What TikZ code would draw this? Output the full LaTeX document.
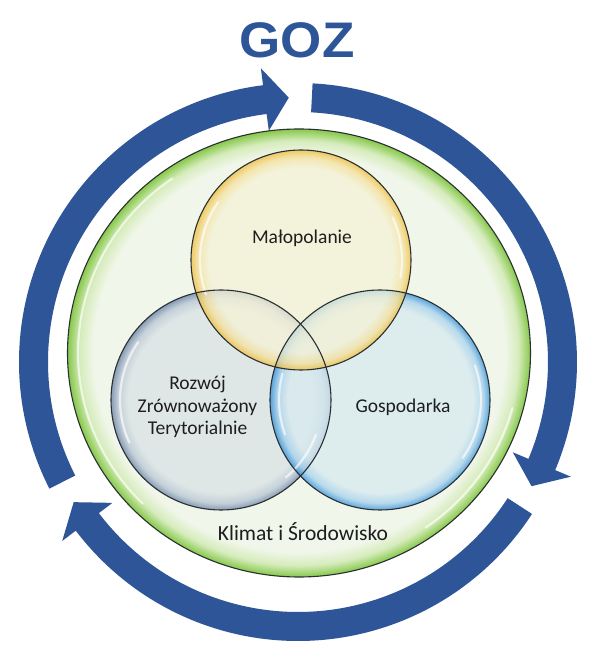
\documentclass[tikz,border=0pt]{standalone}
\usepackage{fontspec}
\setmainfont{Carlito}
\newfontfamily\gozfont[FakeStretch=1.06]{Liberation Sans}
\usetikzlibrary{calc}
\definecolor{arrowblue}{HTML}{2E5597}
\definecolor{greenc}{HTML}{F1F6EA}
\definecolor{greenm}{HTML}{D6ECBC}
\definecolor{greene}{HTML}{86C84A}
\definecolor{yelc}{HTML}{F5F2D6}
\definecolor{yelm}{HTML}{F5E09A}
\definecolor{yele}{HTML}{EFBB36}
\definecolor{lftc}{HTML}{D9E2E5}
\definecolor{lftm}{HTML}{B5C4D4}
\definecolor{lfte}{HTML}{647DA3}
\definecolor{rgtc}{HTML}{D7EAF0}
\definecolor{rgtm}{HTML}{A3D0EE}
\definecolor{rgte}{HTML}{2A8BD6}
\definecolor{outl}{HTML}{2A2F33}
\definecolor{txt}{HTML}{1E1E1E}
\pgfdeclareradialshading{greenglow}{\pgfpoint{0bp}{0bp}}{color(0bp)=(greenc); color(22.2bp)=(greenc); color(23.7bp)=(greenm); color(25bp)=(greene); color(50bp)=(greene)}
\pgfdeclareradialshading{yelglow}{\pgfpoint{0bp}{0bp}}{color(0bp)=(yelc); color(21bp)=(yelc); color(23.4bp)=(yelm); color(25bp)=(yele); color(50bp)=(yele)}
\pgfdeclareradialshading{lftglow}{\pgfpoint{0bp}{0bp}}{color(0bp)=(lftc); color(21bp)=(lftc); color(23.4bp)=(lftm); color(25bp)=(lfte); color(50bp)=(lfte)}
\pgfdeclareradialshading{rgtglow}{\pgfpoint{0bp}{0bp}}{color(0bp)=(rgtc); color(21bp)=(rgtc); color(23.4bp)=(rgtm); color(25bp)=(rgte); color(50bp)=(rgte)}
\newcommand\ringarrow[3]{%
  \fill[arrowblue] ($(c)+(#1:279)$) arc[start angle=#1, end angle=#2, radius=279]
    -- ($(c)+(#2:296)$) -- ($(c)+(#3:264.5)$) -- ($(c)+(#2:233)$) -- ($(c)+(#2:250)$)
    arc[start angle=#2, end angle=#1, radius=250] -- cycle;}
\tikzset{
  outline/.style={draw=outl, line width=1.1pt},
  gloss/.style={draw=white, line width=2.2pt, line cap=round, opacity=0.65},
  lbl/.style={text=txt, font=\fontsize{19.5}{22.5}\selectfont, inner sep=0pt, align=center},
  bigtitle/.style={text=arrowblue, font=\gozfont\bfseries\fontsize{50}{50}\selectfont, inner sep=0pt}
}
\begin{document}
\begin{tikzpicture}[x=1pt, y=1pt]
\useasboundingbox (0,0) rectangle (603,657);
\fill[white] (0,0) rectangle (603,657);
\coordinate (c) at (298,295);
\coordinate (g) at (299,304);
\coordinate (yc) at (301,397);
\coordinate (lc) at (221,257);
\coordinate (rc) at (380,257);
% ring arrows
\ringarrow{207}{97.2}{92}
\ringarrow{87}{-22.8}{-28}
\ringarrow{-33}{-142.8}{-148}
% green background disc
\shade[shading=greenglow] (g) ellipse[x radius=231.5, y radius=224];
\draw[gloss] ($(g)+(125:221 and 213)$) arc[start angle=125, end angle=225, x radius=221, y radius=213];
\draw[gloss] ($(g)+(-15:221 and 213)$) arc[start angle=-15, end angle=-55, x radius=221, y radius=213];
\draw[outline] (g) ellipse[x radius=231.5, y radius=224];
% venn circles
\shade[shading=lftglow, opacity=0.74] (lc) circle[radius=110];
\shade[shading=rgtglow, opacity=0.74] (rc) circle[radius=110];
\shade[shading=yelglow, opacity=0.74] (yc) circle[radius=110];
\draw[gloss] ($(yc)+(145:101)$) arc[start angle=145, end angle=200, radius=101];
\draw[gloss] ($(yc)+(25:101)$) arc[start angle=25, end angle=-10, radius=101];
\draw[gloss] ($(lc)+(145:101)$) arc[start angle=145, end angle=205, radius=101];
\draw[gloss] ($(lc)+(-20:101)$) arc[start angle=-20, end angle=-50, radius=101];
\draw[gloss] ($(rc)+(20:101)$) arc[start angle=20, end angle=-35, radius=101];
\draw[gloss] ($(rc)+(165:101)$) arc[start angle=165, end angle=200, radius=101];
\draw[outline] (lc) circle[radius=110];
\draw[outline] (rc) circle[radius=110];
\draw[outline] (yc) circle[radius=110];
% labels
\node[bigtitle] (goz) at (297,617) {GOZ};
\node[lbl] (malo) at (302,419) {Małopolanie};
\node[lbl] (rozwoj) at (197.5,250) {Rozwój\\Zrównoważony\\Terytorialnie};
\node[lbl] (gosp) at (403,250) {Gospodarka};
\node[lbl, font=\fontsize{21.5}{24}\selectfont] (klimat) at (303,125) {Klimat i Środowisko};
\end{tikzpicture}
\end{document}
